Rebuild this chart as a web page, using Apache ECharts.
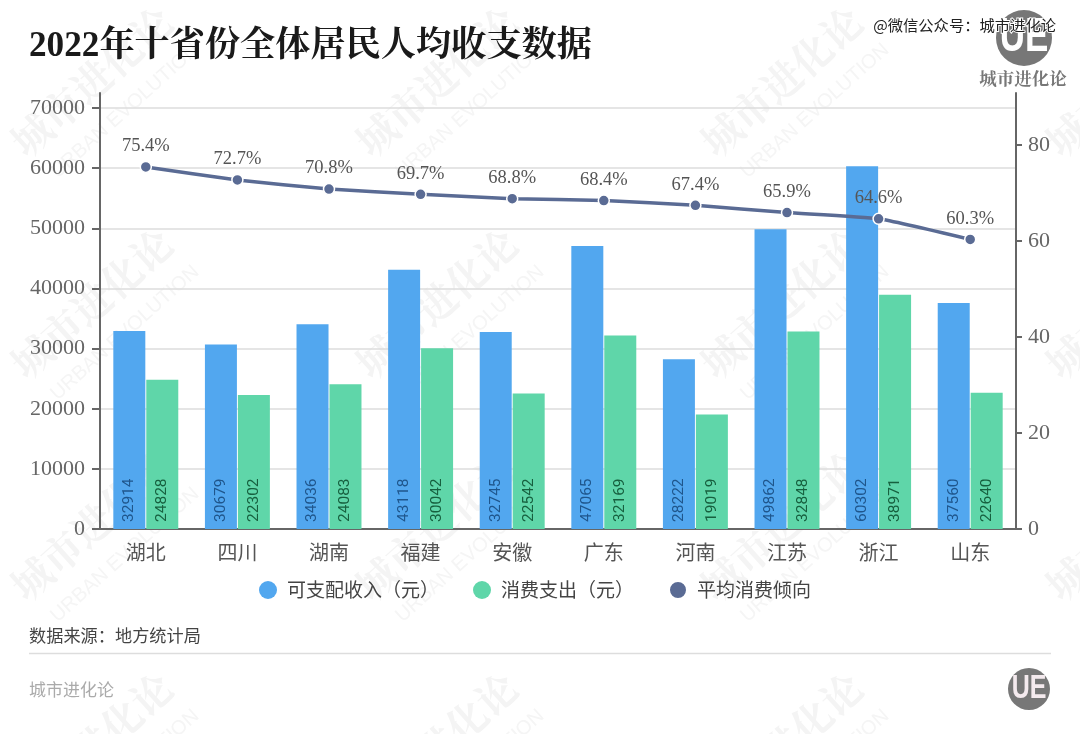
<!DOCTYPE html>
<html>
<head>
<meta charset="utf-8">
<title>2022年十省份全体居民人均收支数据</title>
<script src="https://cdn.jsdelivr.net/npm/echarts@6/dist/echarts.min.js"></script>
<style>
html, body { margin: 0; padding: 0; background: #fff; }
#main { width: 1080px; height: 734px; }
</style>
</head>
<body>
<div id="main"></div>
<script>
var provinces = ['湖北', '四川', '湖南', '福建', '安徽', '广东', '河南', '江苏', '浙江', '山东'];
var income = [32914, 30679, 34036, 43118, 32745, 47065, 28222, 49862, 60302, 37560];
var spending = [24828, 22302, 24083, 30042, 22542, 32169, 19019, 32848, 38971, 22640];
var propensity = [75.4, 72.7, 70.8, 69.7, 68.8, 68.4, 67.4, 65.9, 64.6, 60.3];
var leftTicks = [0, 10000, 20000, 30000, 40000, 50000, 60000, 70000];
var rightTicks = [0, 20, 40, 60, 80];

var serif = '"Liberation Serif","Noto Serif CJK SC","Noto Sans CJK SC",serif';
var sans = '"Noto Sans CJK SC","Noto Sans",sans-serif';

// 背景水印
var graphics = [];
for (var r = 0; r < 4; r++) {
    for (var c = 0; c < 4; c++) {
        var wx = 95 + c * 345, wy = 85 + r * 222;
        graphics.push({
            type: 'text', x: wx, y: wy, rotation: 0.73, z: -10, silent: true,
            style: { text: '城市进化论', fill: '#f4f4f4', font: 'bold 40px ' + serif, align: 'center', verticalAlign: 'middle' }
        });
        graphics.push({
            type: 'text', x: wx + 30, y: wy + 26, rotation: 0.73, z: -10, silent: true,
            style: { text: 'URBAN EVOLUTION', fill: '#f5f5f5', font: '20px "Liberation Sans",sans-serif', align: 'center', verticalAlign: 'middle' }
        });
    }
}

// 标题、来源、logo
graphics.push(
    { type: 'text', x: 29, y: 47, style: { text: '2022年十省份全体居民人均收支数据', fill: '#1a1a1a', font: 'bold 35.2px ' + serif, verticalAlign: 'middle' } },
    { type: 'circle', shape: { cx: 1024, cy: 38, r: 28 }, style: { fill: '#777' } },
    { type: 'text', x: 1024, y: 38, scaleY: 1.35, style: { text: 'UE', fill: '#fff', font: 'bold 35px "Liberation Sans",sans-serif', align: 'center', verticalAlign: 'middle' } },
    { type: 'text', x: 1056, y: 25, style: { text: '@微信公众号：城市进化论', fill: '#222', stroke: '#fff', lineWidth: 2, font: '15.3px ' + sans, align: 'right', verticalAlign: 'middle' } },
    { type: 'text', x: 1023, y: 80, style: { text: '城市进化论', fill: '#777', font: 'bold 17.5px ' + serif, align: 'center', verticalAlign: 'middle' } },
    { type: 'text', x: 29, y: 635, style: { text: '数据来源：地方统计局', fill: '#444', font: '17.2px ' + sans, verticalAlign: 'middle' } },
    { type: 'line', shape: { x1: 29, y1: 653.5, x2: 1051, y2: 653.5 }, style: { stroke: '#ddd', lineWidth: 1.5 } },
    { type: 'text', x: 29, y: 690, style: { text: '城市进化论', fill: '#aaa', font: '17px ' + sans, verticalAlign: 'middle' } },
    { type: 'circle', shape: { cx: 1029, cy: 689, r: 21 }, style: { fill: '#777' } },
    { type: 'text', x: 1029, y: 689, scaleY: 1.35, style: { text: 'UE', fill: '#f4eaee', font: 'bold 25px "Liberation Sans",sans-serif', align: 'center', verticalAlign: 'middle' } }
);

var axisLine = { show: true, lineStyle: { color: '#666', width: 2 } };

var option = {
    backgroundColor: '#fff',
    animation: false,
    graphic: graphics,
    grid: { left: 100, right: 64, top: 93, bottom: 205 },
    legend: {
        left: 254,
        top: 575,
        itemWidth: 18,
        itemHeight: 18,
        itemGap: 34,
        icon: 'circle',
        textStyle: { color: '#444', fontSize: 19, fontFamily: sans, padding: [0, 0, 0, 5] },
        data: ['可支配收入（元）', '消费支出（元）', '平均消费倾向']
    },
    xAxis: {
        type: 'category',
        data: provinces,
        axisLine: axisLine,
        axisTick: { alignWithLabel: true, length: 6, lineStyle: { color: '#666', width: 2 } },
        axisLabel: { color: '#555', fontSize: 20, fontFamily: sans, margin: 13 }
    },
    yAxis: [{
        type: 'value',
        min: 0,
        max: 72500,
        axisLine: axisLine,
        axisTick: { show: true, length: 8, customValues: leftTicks, lineStyle: { color: '#666', width: 2 } },
        axisLabel: {
            color: '#666', fontSize: 22, fontFamily: serif, margin: 15, customValues: leftTicks,
            formatter: function (v) { return String(v); }
        },
        splitLine: { show: true, lineStyle: { color: '#ddd', width: 1.5 } }
    }, {
        type: 'value',
        min: 0,
        max: 90.8,
        position: 'right',
        axisLine: axisLine,
        axisTick: { show: true, length: 6, customValues: rightTicks, lineStyle: { color: '#666', width: 2 } },
        axisLabel: { color: '#666', fontSize: 22, fontFamily: serif, margin: 12, customValues: rightTicks },
        splitLine: { show: false }
    }],
    series: [{
        name: '可支配收入（元）',
        type: 'bar',
        data: income,
        barWidth: 32,
        barGap: '3%',
        itemStyle: { color: '#52a7ef' },
        label: {
            show: true, position: 'insideBottom', rotate: 90, distance: 7,
            align: 'left', verticalAlign: 'middle',
            color: '#1f568c', fontSize: 15.5, fontFamily: 'Roboto'
        }
    }, {
        name: '消费支出（元）',
        type: 'bar',
        data: spending,
        barWidth: 32,
        itemStyle: { color: '#5fd6a9' },
        label: {
            show: true, position: 'insideBottom', rotate: 90, distance: 7,
            align: 'left', verticalAlign: 'middle',
            color: '#17603f', fontSize: 15.5, fontFamily: 'Roboto'
        }
    }, {
        name: '平均消费倾向',
        type: 'line',
        yAxisIndex: 1,
        data: propensity,
        smooth: 0.15,
        symbol: 'circle',
        symbolSize: 11,
        lineStyle: { color: '#5a6b94', width: 3.5 },
        itemStyle: { color: '#5a6b94', borderColor: '#fff', borderWidth: 1.5 },
        label: {
            show: true, position: 'top', distance: 5,
            color: '#555', fontSize: 18.5, fontFamily: serif,
            formatter: function (p) { return p.value + '%'; }
        },
        z: 5
    }]
};

var chart = echarts.init(document.getElementById('main'));
chart.setOption(option);
</script>
</body>
</html>
